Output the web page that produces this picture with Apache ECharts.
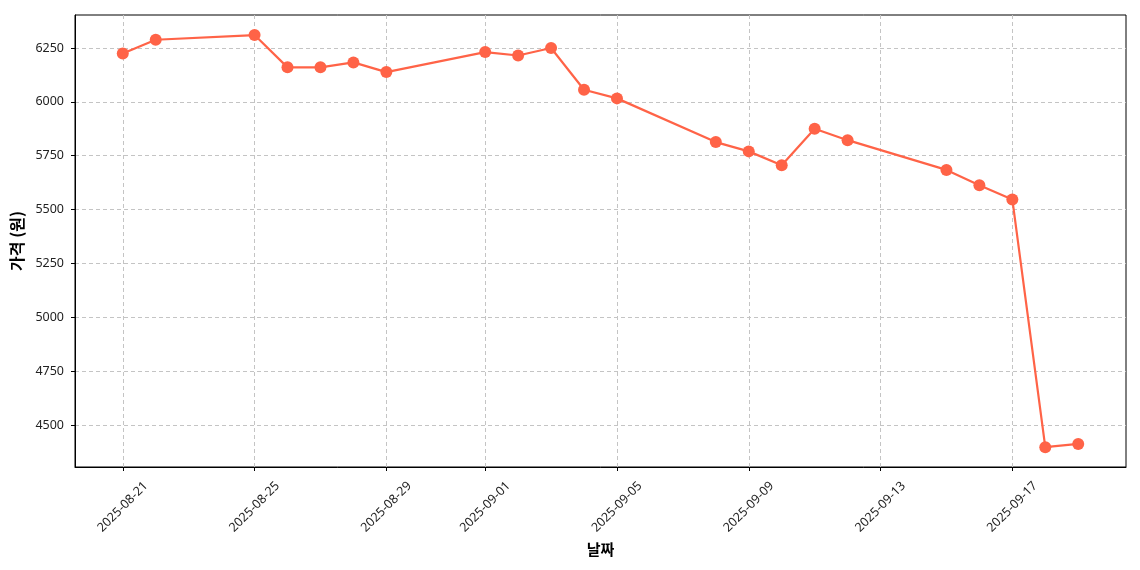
<!DOCTYPE html>
<html><head><meta charset="utf-8">
<script src="https://cdn.jsdelivr.net/npm/echarts@6/dist/echarts.min.js"></script>
<style>html,body{margin:0;padding:0;background:#fff}#c{width:1140px;height:570px}</style>
</head><body><div id="c"></div>
<script>
const dates = ['2025-08-21','2025-08-22','2025-08-25','2025-08-26','2025-08-27','2025-08-28','2025-08-29',
  '2025-09-01','2025-09-02','2025-09-03','2025-09-04','2025-09-05','2025-09-08','2025-09-09','2025-09-10',
  '2025-09-11','2025-09-12','2025-09-15','2025-09-16','2025-09-17','2025-09-18','2025-09-19'];
const prices = [6224,6288,6310,6160,6160,6183,6138,6231,6215,6250,6056,6016,5813,5770,5706,5875,5822,5684,5613,5547,4397,4412];
const xTickLabels = ['2025-08-21','2025-08-25','2025-08-29','2025-09-01','2025-09-05','2025-09-09','2025-09-13','2025-09-17'];
const yTicks = [4500,4750,5000,5250,5500,5750,6000,6250];

const DAY = 86400000;
const ts = s => Date.UTC(+s.slice(0,4), +s.slice(5,7)-1, +s.slice(8,10));
const base = ts(dates[0]);
const dayOf = s => Math.round((ts(s) - base) / DAY);
const pad = n => String(n).padStart(2,'0');
const fmt = v => { const d = new Date(base + Math.round(v)*DAY); return d.getUTCFullYear()+'-'+pad(d.getUTCMonth()+1)+'-'+pad(d.getUTCDate()); };
const xTickVals = xTickLabels.map(dayOf);
const font = '"Noto Sans", "Noto Sans CJK KR", sans-serif';
const kfont = '"Noto Sans CJK KR", sans-serif';
const gridStyle = {color:'#c4c4c4', type:[4,3], width:1};
const lastDay = dayOf(dates[dates.length-1]);

const chart = echarts.init(document.getElementById('c'), null, {renderer:'canvas'});
chart.setOption({
  animation:false,
  backgroundColor:'#fff',
  grid:{left:75, right:14, top:15, bottom:103, show:true, borderColor:'#000', borderWidth:1},
  xAxis:{
    type:'value',
    min: -1.45,
    max: lastDay + 1.45,
    name:'날짜', nameLocation:'middle', nameGap:68,
    nameTextStyle:{fontFamily:kfont, fontSize:15, fontWeight:'bold', color:'#000'},
    axisLine:{show:true, onZero:false, lineStyle:{color:'#000'}},
    axisTick:{show:true, length:4, lineStyle:{color:'#000'}, customValues:xTickVals},
    axisLabel:{rotate:45, align:'center', verticalAlign:'middle', fontFamily:font, fontSize:12.5, color:'#222', margin:40,
      customValues:xTickVals, formatter:v=>fmt(v)},
    splitLine:{show:true, lineStyle:gridStyle}
  },
  yAxis:{
    type:'value', min:4305, max:6403,
    name:'가격 (원)', nameLocation:'middle', nameGap:50,
    nameTextStyle:{fontFamily:kfont, fontSize:16, fontWeight:'bold', color:'#000'},
    axisLine:{show:true, onZero:false, lineStyle:{color:'#000'}},
    axisTick:{show:true, length:4, lineStyle:{color:'#000'}, customValues:yTicks},
    axisLabel:{fontFamily:font, fontSize:12.5, color:'#222', margin:11, customValues:yTicks, formatter:v=>String(v)},
    splitLine:{show:true, lineStyle:gridStyle}
  },
  series:[{
    type:'line',
    data: dates.map((d,i)=>[dayOf(d), prices[i]]),
    lineStyle:{color:'#FF6347', width:2.2},
    itemStyle:{color:'#FF6347'},
    symbol:'circle', symbolSize:12, showSymbol:true
  }]
});
</script></body></html>
